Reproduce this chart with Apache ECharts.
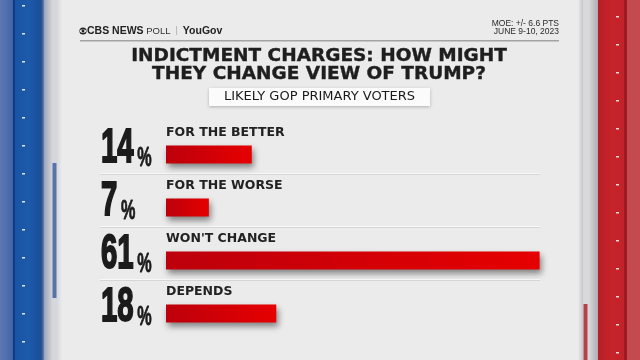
<!DOCTYPE html>
<html><head><meta charset="utf-8">
<script src="https://cdn.jsdelivr.net/npm/echarts@6/dist/echarts.min.js"></script>
<style>html,body{margin:0;padding:0;background:#ebebeb}#c{width:640px;height:360px}</style>
</head><body><div id="c"></div>
<script>
const categories = ['FOR THE BETTER', 'FOR THE WORSE', "WON'T CHANGE", 'DEPENDS'];
const values = [14, 7, 61, 18];
const titleLines = ['INDICTMENT CHARGES: HOW MIGHT', 'THEY CHANGE VIEW OF TRUMP?'];
const subtitle = 'LIKELY GOP PRIMARY VOTERS';
const moeLines = ['MOE: +/- 6.6 PTS', 'JUNE 9-10, 2023'];

const chart = echarts.init(document.getElementById('c'), null, {renderer: 'canvas'});
const LG = (stops) => new echarts.graphic.LinearGradient(0, 0, 1, 0, stops.map((c, i) => ({offset: i / (stops.length - 1), color: c})));

const deco = [];
// left border
deco.push({type: 'rect', shape: {x: 0, y: 0, width: 14, height: 360}, style: {fill: LG(['#5b79b3', '#3f63a6'])}});
deco.push({type: 'rect', shape: {x: 13, y: 0, width: 2, height: 360}, style: {fill: '#123a80'}});
deco.push({type: 'rect', shape: {x: 15, y: 0, width: 26, height: 360}, style: {fill: LG(['#1a54a3', '#1d5aab', '#1a4f98'])}});
deco.push({type: 'rect', shape: {x: 41, y: 0, width: 3, height: 360}, style: {fill: LG(['#24488a', '#6a7ea8'])}});
deco.push({type: 'rect', shape: {x: 44, y: 0, width: 8, height: 360}, style: {fill: LG(['#9aa3b8', '#d2d3d8'])}});
deco.push({type: 'rect', shape: {x: 52, y: 0, width: 5, height: 360}, style: {fill: '#d6d7dc'}});
deco.push({type: 'rect', shape: {x: 52.5, y: 163, width: 4, height: 135}, style: {fill: '#5a72aa'}});
deco.push({type: 'rect', shape: {x: 57, y: 0, width: 5, height: 360}, style: {fill: LG(['#d6d7dc', '#ebebeb'])}});
for (let y = 5; y < 360; y += 28) deco.push({type: 'rect', shape: {x: 22, y: y, width: 3, height: 1.5}, style: {fill: 'rgba(255,255,255,0.85)'}});
// right border
deco.push({type: 'rect', shape: {x: 578, y: 0, width: 5, height: 360}, style: {fill: LG(['#ebebeb', '#c6c6cb'])}});
deco.push({type: 'rect', shape: {x: 583, y: 0, width: 5, height: 360}, style: {fill: '#d9d9dc'}});
deco.push({type: 'rect', shape: {x: 583.5, y: 304, width: 4, height: 56}, style: {fill: '#b2424a'}});
deco.push({type: 'rect', shape: {x: 588, y: 0, width: 11, height: 360}, style: {fill: LG(['#dcdcde', '#a9a9ae'])}});
deco.push({type: 'rect', shape: {x: 598, y: 0, width: 27, height: 360}, style: {fill: LG(['#b81e25', '#c7232b', '#c2222a'])}});
deco.push({type: 'rect', shape: {x: 624, y: 0, width: 3, height: 360}, style: {fill: '#9c1a20'}});
deco.push({type: 'rect', shape: {x: 627, y: 0, width: 13, height: 360}, style: {fill: '#c54a50'}});
for (let y = 16; y < 360; y += 28) deco.push({type: 'rect', shape: {x: 616, y: y, width: 3, height: 1.5}, style: {fill: 'rgba(255,255,255,0.85)'}});

// header
deco.push({type: 'circle', shape: {cx: 83, cy: 31, r: 3.6}, style: {fill: '#222'}});
deco.push({type: 'ellipse', shape: {cx: 83, cy: 31, rx: 3.2, ry: 1.8}, style: {fill: '#ebebeb'}});
deco.push({type: 'circle', shape: {cx: 83, cy: 31, r: 1.4}, style: {fill: '#222'}});
deco.push({type: 'text', x: 87, y: 31, style: {
  text: '{b|CBS NEWS}{l| POLL}{s|  |  }{b|YouGov}', verticalAlign: 'middle', align: 'left',
  rich: {
    b: {fontFamily: 'Liberation Sans', fontWeight: 'bold', fontSize: 10.5, fill: '#222'},
    l: {fontFamily: 'Liberation Sans', fontSize: 9.5, fill: '#333'},
    s: {fontFamily: 'Liberation Sans', fontSize: 9, fill: '#aaa'}
  }}});
deco.push({type: 'text', x: 559, y: 24, style: {text: moeLines[0], align: 'right', verticalAlign: 'middle', fontFamily: 'Liberation Sans', fontSize: 8.5, fill: '#2a2a2a'}});
deco.push({type: 'text', x: 559, y: 31.5, style: {text: moeLines[1], align: 'right', verticalAlign: 'middle', fontFamily: 'Liberation Sans', fontSize: 8.5, fill: '#2a2a2a'}});
deco.push({type: 'rect', shape: {x: 80, y: 40, width: 479, height: 1.5}, style: {fill: '#a3a3a3'}});
// title
deco.push({type: 'text', x: 319, y: 56, style: {text: titleLines[0], align: 'center', verticalAlign: 'middle', fontFamily: 'DejaVu Sans', fontWeight: 'bold', fontSize: 18.5, fill: '#1e1e1e', stroke: '#1e1e1e', lineWidth: 0.4}});
deco.push({type: 'text', x: 319, y: 74, style: {text: titleLines[1], align: 'center', verticalAlign: 'middle', fontFamily: 'DejaVu Sans', fontWeight: 'bold', fontSize: 18.5, fill: '#1e1e1e', stroke: '#1e1e1e', lineWidth: 0.4}});
// subtitle box
deco.push({type: 'rect', shape: {x: 209, y: 88, width: 221, height: 18}, style: {fill: '#fbfbfb', shadowColor: 'rgba(0,0,0,0.25)', shadowBlur: 3, shadowOffsetY: 1}});
deco.push({type: 'text', x: 319.5, y: 97, style: {text: subtitle, align: 'center', verticalAlign: 'middle', fontFamily: 'DejaVu Sans', fontSize: 13, fill: '#1a1a1a'}});

const option = {
  animation: false,
  backgroundColor: '#ebebeb',
  graphic: deco,
  grid: {left: 166, right: 45.25, top: 128, bottom: 20, containLabel: false},
  xAxis: {type: 'value', min: 0, max: 70, show: false},
  yAxis: {type: 'category', data: categories, inverse: true, show: false},
  series: [
    {
      type: 'bar', data: values, barWidth: 18, z: 3,
      itemStyle: {
        color: LG(['#bc000c', '#e60000']),
        shadowColor: 'rgba(0,0,0,0.45)', shadowBlur: 6, shadowOffsetY: 4, shadowOffsetX: 2
      },
      label: {
        show: true, position: [0, -6], align: 'left', verticalAlign: 'bottom',
        formatter: p => categories[p.dataIndex],
        fontFamily: 'DejaVu Sans', fontWeight: 'bold', fontSize: 12.5, color: '#222'
      }
    },
    {
      type: 'custom', z: 2, silent: true,
      data: values.map((v, i) => [v, i]),
      encode: {x: 0, y: 1},
      renderItem: (params, api) => {
        const p = api.coord([0, api.value(1)]);
        const x0 = p[0] - 66, y = p[1];
        const children = [{
          type: 'text', x: x0 + 1, y: y - 7, scaleX: 0.6,
          style: {
            text: '{n|' + api.value(0) + '}{p|%}', align: 'left', verticalAlign: 'middle',
            rich: {
              n: {fontFamily: 'Liberation Sans', fontWeight: 'bold', fontSize: 49, lineHeight: 50, verticalAlign: 'bottom', fill: '#1b1b1b', stroke: '#1b1b1b', lineWidth: 2},
              p: {fontFamily: 'Liberation Sans', fontWeight: 'bold', fontSize: 27, lineHeight: 36, verticalAlign: 'bottom', padding: [0, 0, 0, 6], fill: '#1b1b1b', stroke: '#1b1b1b', lineWidth: 0.8}
            }
          }
        }];
        if (api.value(1) > 0) {
          children.push({type: 'rect', shape: {x: x0, y: y - 34.5, width: 440, height: 1}, style: {fill: '#f8f8f8'}});
          children.push({type: 'rect', shape: {x: x0, y: y - 33.5, width: 440, height: 1}, style: {fill: '#d6d6d6'}});
        }
        return {type: 'group', children: children};
      }
    }
  ]
};
chart.setOption(option);
</script>
</body></html>
